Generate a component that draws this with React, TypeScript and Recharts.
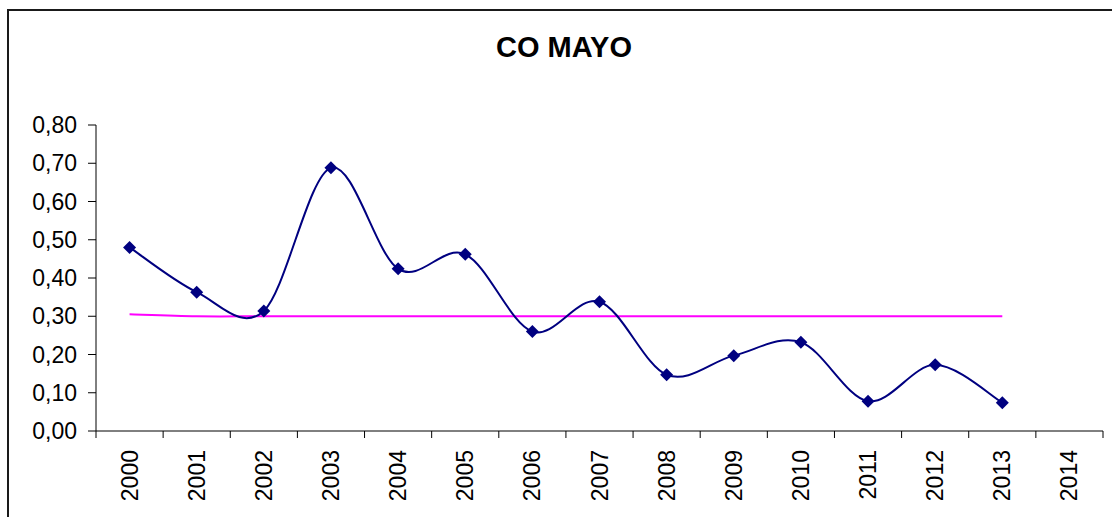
import { LineChart, Line, XAxis, YAxis } from "recharts";

const years = ["2000", "2001", "2002", "2003", "2004", "2005", "2006", "2007", "2008", "2009", "2010", "2011", "2012", "2013", "2014"];
const coValues = [0.48, 0.363, 0.314, 0.688, 0.424, 0.462, 0.26, 0.338, 0.147, 0.197, 0.232, 0.078, 0.173, 0.074, null];
const limitValues = [0.305, 0.3, 0.3, 0.3, 0.3, 0.3, 0.3, 0.3, 0.3, 0.3, 0.3, 0.3, 0.3, 0.3, null];
const yTicks = [0, 0.1, 0.2, 0.3, 0.4, 0.5, 0.6, 0.7, 0.8];

const data = years.map((year, i) => ({ year, co: coValues[i], limit: limitValues[i] }));

const FONT = '"Liberation Sans", Arial, sans-serif';

// excel-style smoothed line (catmull-rom as cubic beziers)
const excelSmooth = (context: any) => {
  let pts: number[][] = [];
  return {
    areaStart() {},
    areaEnd() {},
    lineStart() {
      pts = [];
    },
    point(x: number, y: number) {
      pts.push([+x, +y]);
    },
    lineEnd() {
      if (!pts.length) return;
      context.moveTo(pts[0][0], pts[0][1]);
      for (let i = 0; i < pts.length - 1; i++) {
        const p0 = pts[Math.max(i - 1, 0)];
        const p1 = pts[i];
        const p2 = pts[i + 1];
        const p3 = pts[Math.min(i + 2, pts.length - 1)];
        context.bezierCurveTo(
          p1[0] + (p2[0] - p0[0]) / 6,
          p1[1] + (p2[1] - p0[1]) / 6,
          p2[0] - (p3[0] - p1[0]) / 6,
          p2[1] - (p3[1] - p1[1]) / 6,
          p2[0],
          p2[1]
        );
      }
    },
  };
};

const Diamond = (props: any) => {
  const { cx, cy, index } = props;
  if (cx == null || cy == null || props.value == null) return <g key={`d${index}`} />;
  const r = 6.5;
  return (
    <path
      key={`d${index}`}
      d={`M${cx},${cy - r}L${cx + r},${cy}L${cx},${cy + r}L${cx - r},${cy}Z`}
      fill="#000080"
    />
  );
};

const YearTick = (props: any) => {
  const { x, y, payload, index, visibleTicksCount } = props;
  const half = payload.offset || 0;
  const last = index === visibleTicksCount - 1;
  return (
    <g>
      <line x1={x - half} x2={x - half} y1={y} y2={y + 7} stroke="#000" />
      {last && <line x1={x + half} x2={x + half} y1={y} y2={y + 7} stroke="#000" />}
      <text
        x={x}
        y={y + 19}
        transform={`rotate(-90, ${x}, ${y + 19})`}
        textAnchor="end"
        dominantBaseline="central"
        fontSize={23}
        fontFamily={FONT}
        fill="#000"
      >
        {payload.value}
      </text>
    </g>
  );
};

export default function App() {
  return (
    <div style={{ position: "absolute", left: 0, top: 0, width: 1112, height: 517, overflow: "hidden", background: "#fff" }}>
      <div
        style={{
          position: "absolute",
          left: 7,
          top: 9,
          width: 1200,
          height: 600,
          borderTop: "2px solid #1a1a1a",
          borderLeft: "2px solid #1a1a1a",
        }}
      />
      <div
        style={{
          position: "absolute",
          left: 564,
          top: 31,
          transform: "translateX(-50%)",
          fontFamily: FONT,
          fontWeight: "bold",
          fontSize: 29,
          whiteSpace: "nowrap",
          color: "#000",
        }}
      >
        CO MAYO
      </div>
      <div style={{ position: "absolute", left: 0, top: 0 }}>
        <LineChart width={1112} height={517} data={data} margin={{ top: 125, right: 9, left: 0, bottom: 0 }}>
          <XAxis
            dataKey="year"
            scale="band"
            height={86}
            axisLine={{ stroke: "#000" }}
            tickLine={false}
            tickSize={0}
            tickMargin={0}
            interval={0}
            tick={<YearTick />}
          />
          <YAxis
            width={96}
            domain={[0, 0.8]}
            ticks={yTicks}
            interval={0}
            axisLine={{ stroke: "#000" }}
            tickLine={{ stroke: "#000" }}
            tickSize={8}
            tickMargin={11}
            tickFormatter={(v: number) => v.toFixed(2).replace(".", ",")}
            tick={{ fill: "#000", fontSize: 23, fontFamily: FONT }}
          />
          <Line
            dataKey="limit"
            type={excelSmooth as any}
            stroke="#ff00ff"
            strokeWidth={2}
            dot={false}
            activeDot={false}
            isAnimationActive={false}
          />
          <Line
            dataKey="co"
            type={excelSmooth as any}
            stroke="#000080"
            strokeWidth={2}
            dot={<Diamond />}
            activeDot={false}
            isAnimationActive={false}
          />
        </LineChart>
      </div>
    </div>
  );
}
